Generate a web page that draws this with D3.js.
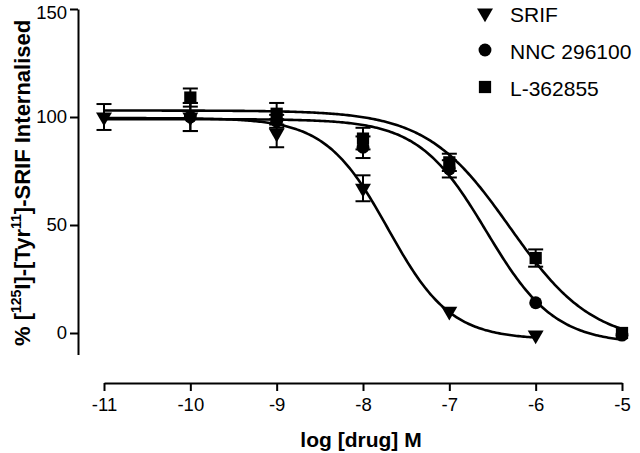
<!DOCTYPE html>
<html>
<head>
<meta charset="utf-8">
<script src="https://cdn.jsdelivr.net/npm/d3@7"></script>
<style>
  html, body { margin: 0; padding: 0; background: #fff; }
  svg { display: block; font-family: "Liberation Sans", Arial, Helvetica, sans-serif; }
</style>
</head>
<body>
<svg id="chart" width="640" height="453"></svg>
<script>
// ---- data ----
const logDose = [-11, -10, -9, -8, -7, -6, -5];

const srifMean = [100, 100, 92.5, 67, 10, -1, null];
const srifErr  = [6, 6.5, 6.5, 6, 1, 1, null];

const nncMean  = [null, 100, 98, 86, 76, 14, -1];
const nncErr   = [null, 6.5, 3, 5, 4, 1, 1];

const lMean    = [null, 109, 101.5, 90, 79, 34.7, 0];
const lErr     = [null, 4.2, 5, 5, 4, 4, 1];

// fitted sigmoid curves: [top, bottom, logIC50, hill, xStart, xEnd]
const srifFit = [99.5, -3, -7.71, 1.2, -11, -6];
const nncFit  = [99, -5, -6.57, 1.1, -11, -5];
const lFit    = [103, -5, -6.3, 0.9, -11, -5];

const xTicks = [-11, -10, -9, -8, -7, -6, -5];
const yTicks = [0, 50, 100, 150];

const legendNames = ["SRIF", "NNC 296100", "L-362855"];

// ---- drawing ----
const svg = d3.select("#chart");
const x = d3.scaleLinear().domain([-11, -5]).range([104, 622]);
const y = d3.scaleLinear().domain([-10, 150]).range([354.6, 9]);

// axes
const yAxis = d3.axisLeft(y).tickValues(yTicks).tickSize(8).tickPadding(3).tickSizeOuter(0);
const gy = svg.append("g").attr("transform", "translate(78,0)").call(yAxis);
const xAxis = d3.axisBottom(x).tickValues(xTicks).tickSize(8).tickPadding(7).tickSizeOuter(0)
  .tickFormat(d => String(d));
const gx = svg.append("g").attr("transform", "translate(0,383)").call(xAxis);

[gx, gy].forEach(g => {
  g.selectAll(".domain").attr("stroke", "#000").attr("stroke-width", 2);
  g.selectAll(".tick line").attr("stroke", "#000").attr("stroke-width", 2);
  g.selectAll(".tick text").attr("fill", "#000").attr("font-size", 18.5)
    .attr("font-family", "Liberation Sans, Arial, sans-serif");
});
// keep the top label inside the picture
gy.selectAll(".tick text").filter(d => d === 150).attr("dy", "0.5em");

// axis titles
svg.append("text")
  .attr("x", 361).attr("y", 447)
  .attr("text-anchor", "middle")
  .attr("font-size", 21).attr("font-weight", "bold")
  .text("log [drug] M");

const yt = svg.append("text")
  .attr("transform", "translate(30,346) rotate(-90)")
  .attr("text-anchor", "start")
  .attr("font-size", 22).attr("font-weight", "bold");
yt.append("tspan").text("% [");
yt.append("tspan").attr("font-size", 14).attr("dy", -9).text("125");
yt.append("tspan").attr("dy", 9).text("I]-[Tyr");
yt.append("tspan").attr("font-size", 14).attr("dy", -9).text("11");
yt.append("tspan").attr("dy", 9).text("]-SRIF Internalised");

// fitted curves
function sigmoid(p, xv) {
  return p[1] + (p[0] - p[1]) / (1 + Math.pow(10, (xv - p[2]) * p[3]));
}
const line = d3.line().x(d => x(d[0])).y(d => y(d[1])).curve(d3.curveLinear);
[srifFit, nncFit, lFit].forEach(p => {
  const pts = d3.range(p[4], p[5] + 0.0001, 0.02).map(v => [v, sigmoid(p, v)]);
  svg.append("path").attr("d", line(pts))
    .attr("fill", "none").attr("stroke", "#000").attr("stroke-width", 2.6);
});

// symbols
const tri = d3.symbol().type(d3.symbolTriangle).size(110);
const circ = d3.symbol().type(d3.symbolCircle).size(130);
const sq = d3.symbol().type(d3.symbolSquare).size(150);

function drawSeries(means, errs, sym, rot) {
  const g = svg.append("g");
  logDose.forEach((d, i) => {
    const m = means[i];
    if (m === null || m === undefined) return;
    const e = errs[i];
    const cx = x(d);
    if (e > 1.5) {
      g.append("line").attr("x1", cx).attr("x2", cx).attr("y1", y(m - e)).attr("y2", y(m + e))
        .attr("stroke", "#000").attr("stroke-width", 2);
      [m - e, m + e].forEach(v => {
        g.append("line").attr("x1", cx - 7.5).attr("x2", cx + 7.5).attr("y1", y(v)).attr("y2", y(v))
          .attr("stroke", "#000").attr("stroke-width", 2);
      });
    }
    g.append("path").attr("d", sym())
      .attr("transform", `translate(${cx},${y(m)}) rotate(${rot})`)
      .attr("fill", "#000");
  });
}
drawSeries(srifMean, srifErr, tri, 180);
drawSeries(nncMean, nncErr, circ, 0);
drawSeries(lMean, lErr, sq, 0);

// legend
const legSyms = [[tri, 180], [circ, 0], [sq, 0]];
legendNames.forEach((name, i) => {
  const ly = 13 + i * 37;
  svg.append("path").attr("d", legSyms[i][0]())
    .attr("transform", `translate(485,${ly}) rotate(${legSyms[i][1]})`)
    .attr("fill", "#000");
  svg.append("text").attr("x", 510).attr("y", ly + 8.5)
    .attr("font-size", 21).text(name);
});
</script>
</body>
</html>
